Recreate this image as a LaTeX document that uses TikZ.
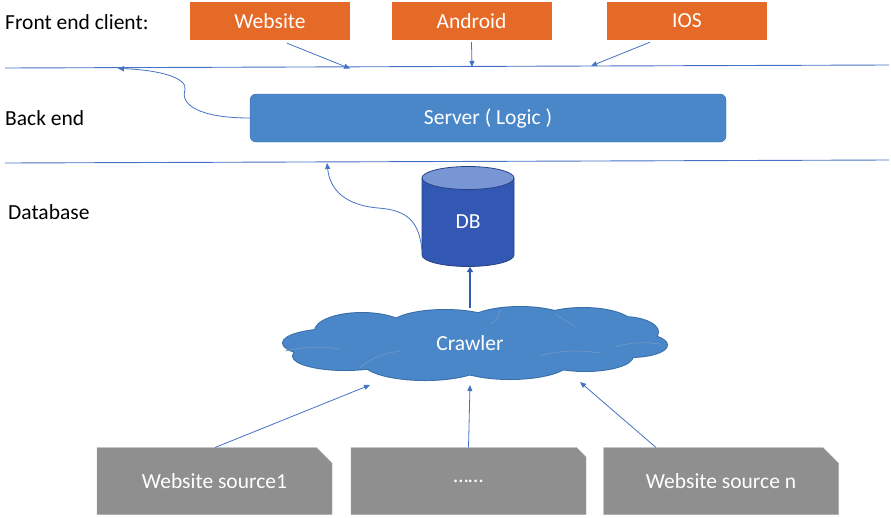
\documentclass[tikz,border=0pt]{standalone}
\usepackage{fontspec}
\setmainfont{Carlito}
\usetikzlibrary{shapes.misc,arrows.meta}
\definecolor{orangebox}{HTML}{E66A27}
\definecolor{linkblue}{HTML}{4472C4}
\definecolor{serverblue}{HTML}{4A87C9}
\definecolor{serveredge}{HTML}{3A6EA8}
\definecolor{dbblue}{HTML}{3358B4}
\definecolor{dbtop}{HTML}{7896D4}
\definecolor{sourcegray}{HTML}{8F8F8F}
\tikzset{
  big/.style={font=\fontsize{21.5}{24}\selectfont},
  client/.style={big, fill=orangebox, text=white, minimum width=160pt, minimum height=38pt, inner sep=0pt},
  tier/.style={big, anchor=west, inner sep=0pt},
  layerline/.style={draw=linkblue, line width=0.9pt},
  link/.style={draw=linkblue, line width=0.8pt, -{Triangle[length=6pt,width=5pt]}},
  source/.style={big, chamfered rectangle, chamfered rectangle corners=north east, chamfered rectangle xsep=8pt, chamfered rectangle ysep=8pt,
    fill=sourcegray, draw=gray!70, text=white, minimum width=235pt, minimum height=67pt, inner sep=0pt},
  puffedge/.style={fill=serverblue, draw=serveredge, line width=2pt},
  pufffill/.style={fill=serverblue},
  dbedge/.style={draw=dbblue!75!black, line width=0.8pt}
}
% puffs of the crawler cloud
\newcommand\crawlerpuffs{%
  \path (335,343) ellipse [x radius=52, y radius=14];
  \path (362,331) ellipse [x radius=47, y radius=18];
  \path (445,326) ellipse [x radius=55, y radius=16];
  \path (520,325) ellipse [x radius=55, y radius=18];
  \path (583,325) ellipse [x radius=50, y radius=17];
  \path (622,332) ellipse [x radius=36, y radius=15];
  \path (630,345) ellipse [x radius=37, y radius=12];
  \path (345,356) ellipse [x radius=52, y radius=14];
  \path (425,362) ellipse [x radius=62, y radius=18];
  \path (510,361) ellipse [x radius=60, y radius=18];
  \path (585,356) ellipse [x radius=48, y radius=15];
  \path (300,336) rectangle (650,355);
}
\begin{document}
\begin{tikzpicture}[x=1pt,y=-1pt]
\useasboundingbox (0,0) rectangle (891,517);

% tier labels
\node[tier] (lfront) at (5,22) {Front end client:};
\node[tier] (lback) at (5,118) {Back end};
\node[tier] (ldb) at (8,212) {Database};

% front end clients
\node[client] (web) at (270,21) {Website};
\node[client] (android) at (471.5,21) {Android};
\node[client] (ios) at (687,21) {IOS};

% layer separators
\coordinate (l1a) at (5,68);
\coordinate (l1b) at (889,65);
\coordinate (l2a) at (5,163);
\coordinate (l2b) at (889,160);
\draw[layerline] (l1a) -- (l1b);
\draw[layerline] (l2a) -- (l2b);

% arrows from clients onto the first separator
\coordinate (webin) at (350,68.5);
\coordinate (andin) at (472,67);
\coordinate (iosin) at (591,66);
\draw[link] ([xshift=17pt]web.south) ++(0,3) -- (webin);
\draw[link] (android.south) ++(0,2) -- (andin);
\draw[link] ([xshift=-37pt]ios.south) ++(0,2) -- (iosin);

% server
\node[big, rounded corners=6pt, fill=serverblue, draw=serveredge, text=white, minimum width=476pt, minimum height=48pt,
  inner sep=0pt] (server) at (488,118) {Server ( Logic )};
\coordinate (srvout) at (118,68.5);
\draw[link] (server.west) .. controls (200,118) and (180,105) .. (185,90) .. controls (188,78) and (160,70) .. (srvout);

% database cylinder: body with rounded bottom, then the lighter top face
\path[fill=dbblue, dbedge] (422,178) -- (422,255) arc[start angle=180, end angle=0, x radius=46, y radius=11.5] -- (514,178) -- cycle;
\path[fill=dbtop, dbedge] (468,178) ellipse [x radius=46, y radius=11.5];
\node[big, text=white, inner sep=0pt] (db) at (468,222) {DB};
\coordinate (dbfoot) at (422,250);
\coordinate (dbbase) at (470,267);
\coordinate (dbout) at (327,163);
\draw[link] (dbfoot) .. controls (419,222) and (408,210) .. (378,208) .. controls (345,205) and (330,190) .. (dbout);

% crawler cloud: outlined puffs, then the same puffs filled on top
\begin{scope}[every path/.style={puffedge}]
  \crawlerpuffs
\end{scope}
\begin{scope}[every path/.style={pufffill}]
  \crawlerpuffs
\end{scope}
% faint inner seams of the cloud
\begin{scope}[draw=serveredge!70, line width=0.6pt]
  \draw (285,351) .. controls (300,347) and (320,346) .. (340,349);
  \draw (360,368) .. controls (370,358) and (385,353) .. (400,351);
  \draw (500,310) .. controls (498,318) and (495,322) .. (490,324);
  \draw (555,314) .. controls (565,320) and (570,324) .. (575,326);
  \draw (615,347) .. controls (630,342) and (645,342) .. (660,344);
  \draw (540,356) .. controls (560,350) and (580,350) .. (600,353);
\end{scope}
\node[big, text=white, inner sep=0pt] (crawler) at (470,343) {Crawler};
\coordinate (crtop) at (470,308);
\draw[draw=dbblue, line width=2.2pt, -{Triangle[length=5pt,width=6pt]}] (crtop) -- (dbbase);

% sources
\node[source] (src1) at (214.5,481) {Website source1};
\node[source] (src2) at (468.5,481) {……};
\node[source] (srcn) at (721,481) {Website source n};
\coordinate (c1) at (370,385);
\coordinate (c2) at (470,385);
\coordinate (c3) at (580,382);
\coordinate (s1) at (215,447.5);
\coordinate (s3) at (656,447.5);
\draw[link] (s1) -- (c1);
\draw[link] (src2.north) -- (c2);
\draw[link] (s3) -- (c3);
\end{tikzpicture}
\end{document}
